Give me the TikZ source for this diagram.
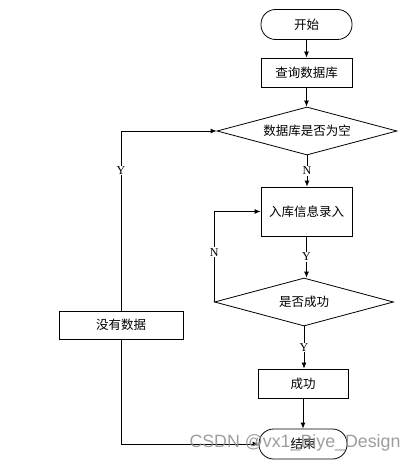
\documentclass[tikz,border=0pt]{standalone}
\usepackage{fontspec}
\setmainfont{Liberation Serif}
\newfontfamily\cjk{Noto Sans CJK SC}
\newfontfamily\wmfont{Liberation Sans}
\usetikzlibrary{shapes.geometric,arrows.meta}
\begin{document}
\begin{tikzpicture}[x=1pt,y=-1pt,
  every node/.style={font=\cjk\fontsize{12.5}{14}\selectfont},
  proc/.style={draw, line width=0.8pt, rectangle, inner sep=0pt},
  term/.style={draw, line width=0.8pt, rectangle, rounded corners=14.5pt, inner sep=0pt},
  dec/.style={draw, line width=0.8pt, diamond, aspect=3.75, inner sep=1pt},
  conn/.style={draw, line width=0.8pt, -{Latex[length=6pt,width=5pt]}},
  lbl/.style={fill=white, inner sep=1pt, font=\fontsize{12}{13}\selectfont}
]
\useasboundingbox (0,0) rectangle (418,465);
\node[term, minimum width=91pt, minimum height=30pt] (start) at (306.5,24.5) {开始};
\node[proc, minimum width=91pt, minimum height=29pt] (query) at (306.5,72.5) {查询数据库};
\node[dec, minimum width=180pt, minimum height=48pt] (d1) at (307,131) {数据库是否为空};
\node[proc, minimum width=91pt, minimum height=49pt] (entry) at (306.5,211.5) {入库信息录入};
\node[dec, minimum width=179pt, minimum height=48pt] (d2) at (304,302) {是否成功};
\node[proc, minimum width=90pt, minimum height=29pt] (ok) at (303,383.5) {成功};
\node[term, minimum width=88pt, minimum height=30pt] (stop) at (303,444) {结束};
\node[proc, minimum width=124pt, minimum height=28pt] (none) at (121,325) {没有数据};

\draw[conn] (start.south) -- (start.south |- query.north);
\draw[conn] (query.south) -- (query.south |- d1.north);
\draw[conn] (d1.south) -- node[lbl]{N} (d1.south |- entry.north);
\draw[conn] (entry.south) -- node[lbl]{Y} (entry.south |- d2.north);
\draw[conn] (d2.south) -- node[lbl]{Y} (d2.south |- ok.north);
\draw[conn] (ok.south) -- (ok.south |- stop.north);
\draw[conn] (d2.west) -- node[lbl, pos=0.55]{N} (d2.west |- entry.west) -- (entry.west);
\draw[conn] (none.north) |- node[lbl, pos=0.39]{Y} (d1.west);
\draw[conn] (none.south) |- (stop.west);

\node[font=\wmfont\fontsize{17.8}{18}\selectfont, text=black!45, opacity=0.85, inner sep=0pt] (wm) at (295,443) {CSDN @vx1\_Biye\_Design};
\end{tikzpicture}
\end{document}
